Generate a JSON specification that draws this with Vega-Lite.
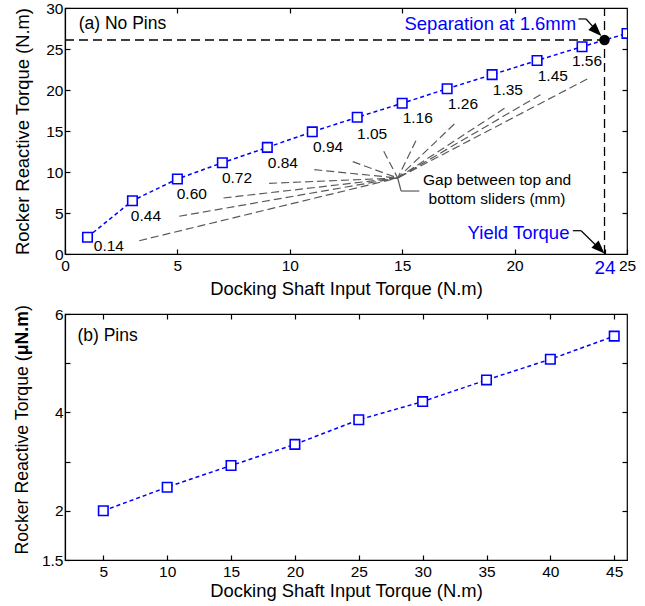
{
  "$schema": "https://vega.github.io/schema/vega-lite/v6.json",
  "padding": {"left": 12, "top": 0, "right": 8, "bottom": 5},
  "background": "white",
  "spacing": 6,
  "config": {
    "font": "Liberation Sans",
    "view": {"stroke": "black", "strokeWidth": 1.2},
    "axis": {
      "grid": false,
      "labelFont": "Liberation Sans",
      "labelFontSize": 15.5,
      "labelColor": "black",
      "titleFont": "Liberation Sans",
      "titleFontWeight": "normal",
      "titleColor": "black",
      "domainColor": "black",
      "domainWidth": 1.2,
      "tickColor": "black",
      "tickWidth": 1.2,
      "tickSize": -5,
      "labelFlush": false,
      "labelOverlap": false
    },
    "axisX": {"labelPadding": 9, "titleFontSize": 18.4, "titlePadding": 2},
    "axisY": {"labelPadding": 7, "titleFontSize": 18.4}
  },
  "datasets": {
    "seriesA": [
      {"torque": 1, "reactive": 2.05},
      {"torque": 3, "reactive": 6.5},
      {"torque": 5, "reactive": 9.15},
      {"torque": 7, "reactive": 11.13},
      {"torque": 9, "reactive": 13.0},
      {"torque": 11, "reactive": 14.9},
      {"torque": 13, "reactive": 16.67},
      {"torque": 15, "reactive": 18.38},
      {"torque": 17, "reactive": 20.16},
      {"torque": 19, "reactive": 21.87},
      {"torque": 21, "reactive": 23.6},
      {"torque": 23, "reactive": 25.28},
      {"torque": 25, "reactive": 26.9}
    ],
    "gapLabels": [
      {"torque": 1.28, "reactive": 1.01, "gap": "0.14"},
      {"torque": 2.93, "reactive": 4.67, "gap": "0.44"},
      {"torque": 4.97, "reactive": 7.32, "gap": "0.60"},
      {"torque": 6.98, "reactive": 9.23, "gap": "0.72"},
      {"torque": 9.02, "reactive": 11.1, "gap": "0.84"},
      {"torque": 11.03, "reactive": 13.05, "gap": "0.94"},
      {"torque": 12.99, "reactive": 14.63, "gap": "1.05"},
      {"torque": 15.02, "reactive": 16.55, "gap": "1.16"},
      {"torque": 17.03, "reactive": 18.26, "gap": "1.26"},
      {"torque": 19.03, "reactive": 20.0, "gap": "1.35"},
      {"torque": 21.03, "reactive": 21.67, "gap": "1.45"},
      {"torque": 22.55, "reactive": 23.54, "gap": "1.56"}
    ],
    "leaders": [
      {"torque": 3.3, "reactive": 1.62, "torque2": 14.8, "reactive2": 9.27},
      {"torque": 5.08, "reactive": 4.6, "torque2": 14.8, "reactive2": 9.27},
      {"torque": 7.05, "reactive": 6.83, "torque2": 14.8, "reactive2": 9.27},
      {"torque": 9.08, "reactive": 8.62, "torque2": 14.8, "reactive2": 9.27},
      {"torque": 11.09, "reactive": 10.28, "torque2": 14.8, "reactive2": 9.27},
      {"torque": 12.8, "reactive": 11.26, "torque2": 14.8, "reactive2": 9.27},
      {"torque": 14.18, "reactive": 12.52, "torque2": 14.8, "reactive2": 9.27},
      {"torque": 15.61, "reactive": 13.82, "torque2": 14.8, "reactive2": 9.27},
      {"torque": 17.32, "reactive": 15.85, "torque2": 14.8, "reactive2": 9.27},
      {"torque": 19.55, "reactive": 17.77, "torque2": 14.8, "reactive2": 9.27},
      {"torque": 21.15, "reactive": 19.43, "torque2": 14.8, "reactive2": 9.27},
      {"torque": 23.23, "reactive": 21.34, "torque2": 14.8, "reactive2": 9.27}
    ],
    "bracket": [
      {"torque": 14.8, "reactive": 9.27, "torque2": 14.95, "reactive2": 7.68},
      {"torque": 14.95, "reactive": 7.68, "torque2": 15.76, "reactive2": 7.68}
    ],
    "refLines": [
      {"torque": 0, "reactive": 26.1, "torque2": 24, "reactive2": 26.1},
      {"torque": 24, "reactive": 0, "torque2": 24, "reactive2": 30}
    ],
    "separation": [{"torque": 24, "reactive": 26.1}],
    "arrowLines": [
      {"torque": 22.84, "reactive": 28.66, "torque2": 23.18, "reactive2": 28.66},
      {"torque": 23.18, "reactive": 28.66, "torque2": 23.8, "reactive2": 26.75},
      {"torque": 22.59, "reactive": 2.84, "torque2": 22.96, "reactive2": 2.84},
      {"torque": 22.96, "reactive": 2.84, "torque2": 23.9, "reactive2": 0.3}
    ],
    "arrowHeads": [
      {"torque": 23.86, "reactive": 26.6},
      {"torque": 24.0, "reactive": 0.05}
    ],
    "blueNotes": [
      {"torque": 22.74, "reactive": 28.05, "note": "Separation at 1.6mm"},
      {"torque": 22.44, "reactive": 2.52, "note": "Yield Torque"}
    ],
    "blackNotes": [
      {"torque": 19.22, "reactive": 9.0, "note": "Gap between top and"},
      {"torque": 19.22, "reactive": 6.65, "note": "bottom sliders (mm)"}
    ],
    "panelA": [{"torque": 0.61, "reactive": 28.05, "note": "(a) No Pins"}],
    "seriesB": [
      {"torque": 5, "reactive": 2.0},
      {"torque": 10, "reactive": 2.48},
      {"torque": 15, "reactive": 2.92},
      {"torque": 20, "reactive": 3.35},
      {"torque": 25, "reactive": 3.85},
      {"torque": 30, "reactive": 4.22},
      {"torque": 35, "reactive": 4.66},
      {"torque": 40, "reactive": 5.08},
      {"torque": 45, "reactive": 5.55}
    ],
    "panelB": [{"torque": 2.97, "reactive": 5.56, "note": "(b) Pins"}],
    "titleB_lead": [{"torque": -0.57, "reactive": 5.16, "part": "Rocker Reactive Torque ("}],
    "titleB_unit": [{"torque": -0.57, "reactive": 5.16, "part": "μN.m"}],
    "titleB_close": [{"torque": -0.57, "reactive": 6.06, "part": ")"}]
  },
  "vconcat": [
    {
      "width": 562,
      "height": 246,
      "resolve": {"axis": {"x": "independent", "y": "independent"}},
      "layer": [
        {
          "layer": [
            {
              "data": {"name": "refLines"},
              "mark": {"type": "rule", "color": "black", "strokeWidth": 1.3, "strokeDash": [9, 5]},
              "encoding": {
                "x": {
                  "field": "torque", "type": "quantitative",
                  "scale": {"domain": [0, 25], "nice": false, "zero": false},
                  "title": "Docking Shaft Input Torque (N.m)",
                  "axis": {
                    "values": [0, 5, 10, 15, 20, 24, 25],
                    "labelColor": {"expr": "datum.value == 24 ? '#0000ff' : 'black'"},
                    "labelFontSize": {"expr": "datum.value == 24 ? 19 : 15.5"}
                  }
                },
                "y": {
                  "field": "reactive", "type": "quantitative",
                  "scale": {"domain": [0, 30], "nice": false},
                  "title": "Rocker Reactive Torque (N.m)",
                  "axis": {"values": [0, 5, 10, 15, 20, 25, 30], "titlePadding": 13.5}
                },
                "x2": {"field": "torque2"},
                "y2": {"field": "reactive2"}
              }
            },
            {
              "data": {"name": "leaders"},
              "mark": {"type": "rule", "color": "#5a5a5a", "strokeWidth": 1.2, "strokeDash": [8, 4]},
              "encoding": {
                "x": {"field": "torque", "type": "quantitative", "title": "Docking Shaft Input Torque (N.m)"},
                "y": {"field": "reactive", "type": "quantitative", "title": "Rocker Reactive Torque (N.m)"},
                "x2": {"field": "torque2"},
                "y2": {"field": "reactive2"}
              }
            },
            {
              "data": {"name": "bracket"},
              "mark": {"type": "rule", "color": "#5a5a5a", "strokeWidth": 1.2},
              "encoding": {
                "x": {"field": "torque", "type": "quantitative", "title": "Docking Shaft Input Torque (N.m)"},
                "y": {"field": "reactive", "type": "quantitative", "title": "Rocker Reactive Torque (N.m)"},
                "x2": {"field": "torque2"},
                "y2": {"field": "reactive2"}
              }
            },
            {
              "data": {"name": "seriesA"},
              "mark": {"type": "line", "color": "#0000ff", "strokeWidth": 1.5, "strokeDash": [4, 3], "clip": true},
              "encoding": {
                "x": {"field": "torque", "type": "quantitative", "title": "Docking Shaft Input Torque (N.m)"},
                "y": {"field": "reactive", "type": "quantitative", "title": "Rocker Reactive Torque (N.m)"}
              }
            },
            {
              "data": {"name": "seriesA"},
              "mark": {"type": "point", "shape": "square", "size": 90, "filled": false, "fill": "white", "fillOpacity": 1, "color": "#0000ff", "strokeWidth": 1.6, "opacity": 1, "clip": true},
              "encoding": {
                "x": {"field": "torque", "type": "quantitative", "title": "Docking Shaft Input Torque (N.m)"},
                "y": {"field": "reactive", "type": "quantitative", "title": "Rocker Reactive Torque (N.m)"}
              }
            },
            {
              "data": {"name": "separation"},
              "mark": {"type": "circle", "color": "black", "size": 110, "opacity": 1},
              "encoding": {
                "x": {"field": "torque", "type": "quantitative", "title": "Docking Shaft Input Torque (N.m)"},
                "y": {"field": "reactive", "type": "quantitative", "title": "Rocker Reactive Torque (N.m)"}
              }
            },
            {
              "data": {"name": "gapLabels"},
              "mark": {"type": "text", "align": "left", "baseline": "middle", "fontSize": 15.5, "color": "black"},
              "encoding": {
                "x": {"field": "torque", "type": "quantitative", "title": "Docking Shaft Input Torque (N.m)"},
                "y": {"field": "reactive", "type": "quantitative", "title": "Rocker Reactive Torque (N.m)"},
                "text": {"field": "gap"}
              }
            },
            {
              "data": {"name": "arrowLines"},
              "mark": {"type": "rule", "color": "black", "strokeWidth": 1.2},
              "encoding": {
                "x": {"field": "torque", "type": "quantitative", "title": "Docking Shaft Input Torque (N.m)"},
                "y": {"field": "reactive", "type": "quantitative", "title": "Rocker Reactive Torque (N.m)"},
                "x2": {"field": "torque2"},
                "y2": {"field": "reactive2"}
              }
            },
            {
              "data": {"name": "arrowHeads"},
              "mark": {"type": "point", "shape": "M0,0 L-2,-0.75 L-2,0.75 Z", "size": 180, "angle": 45, "filled": true, "color": "black", "opacity": 1, "strokeWidth": 0},
              "encoding": {
                "x": {"field": "torque", "type": "quantitative", "title": "Docking Shaft Input Torque (N.m)"},
                "y": {"field": "reactive", "type": "quantitative", "title": "Rocker Reactive Torque (N.m)"}
              }
            },
            {
              "data": {"name": "blueNotes"},
              "mark": {"type": "text", "align": "right", "baseline": "middle", "fontSize": 18.5, "color": "#0000ff"},
              "encoding": {
                "x": {"field": "torque", "type": "quantitative", "title": "Docking Shaft Input Torque (N.m)"},
                "y": {"field": "reactive", "type": "quantitative", "title": "Rocker Reactive Torque (N.m)"},
                "text": {"field": "note"}
              }
            },
            {
              "data": {"name": "blackNotes"},
              "mark": {"type": "text", "align": "center", "baseline": "middle", "fontSize": 15.5, "color": "black"},
              "encoding": {
                "x": {"field": "torque", "type": "quantitative", "title": "Docking Shaft Input Torque (N.m)"},
                "y": {"field": "reactive", "type": "quantitative", "title": "Rocker Reactive Torque (N.m)"},
                "text": {"field": "note"}
              }
            },
            {
              "data": {"name": "panelA"},
              "mark": {"type": "text", "align": "left", "baseline": "middle", "fontSize": 17.5, "color": "black"},
              "encoding": {
                "x": {"field": "torque", "type": "quantitative", "title": "Docking Shaft Input Torque (N.m)"},
                "y": {"field": "reactive", "type": "quantitative", "title": "Rocker Reactive Torque (N.m)"},
                "text": {"field": "note"}
              }
            }
          ]
        },
        {
          "data": {"name": "separation"},
          "mark": {"type": "point", "opacity": 0},
          "encoding": {
            "x": {
              "field": "torque", "type": "quantitative",
              "scale": {"domain": [0, 25], "nice": false, "zero": false},
              "axis": {"orient": "top", "values": [5, 10, 15, 20], "labels": false, "title": null, "domain": false}
            },
            "y": {
              "field": "reactive", "type": "quantitative",
              "scale": {"domain": [0, 30], "nice": false},
              "axis": {"orient": "right", "values": [5, 10, 15, 20, 25], "labels": false, "title": null, "domain": false}
            }
          }
        }
      ]
    },
    {
      "width": 562,
      "height": 246,
      "resolve": {"axis": {"x": "independent", "y": "independent"}},
      "layer": [
        {
          "layer": [
            {
              "data": {"name": "seriesB"},
              "mark": {"type": "line", "color": "#0000ff", "strokeWidth": 1.5, "strokeDash": [4, 3]},
              "encoding": {
                "x": {
                  "field": "torque", "type": "quantitative",
                  "scale": {"domain": [2, 46], "nice": false, "zero": false},
                  "title": "Docking Shaft Input Torque (N.m)",
                  "axis": {"values": [5, 10, 15, 20, 25, 30, 35, 40, 45]}
                },
                "y": {
                  "field": "reactive", "type": "quantitative",
                  "scale": {"domain": [1, 6], "nice": false, "zero": false},
                  "title": null,
                  "axis": {
                    "values": [1, 2, 3, 4, 5, 6],
                    "labelExpr": "datum.value == 1 ? '1.5' : (datum.value % 2 == 0 ? datum.label : '')"
                  }
                }
              }
            },
            {
              "data": {"name": "seriesB"},
              "mark": {"type": "point", "shape": "square", "size": 90, "filled": false, "fill": "white", "fillOpacity": 1, "color": "#0000ff", "strokeWidth": 1.6, "opacity": 1},
              "encoding": {
                "x": {"field": "torque", "type": "quantitative", "title": "Docking Shaft Input Torque (N.m)"},
                "y": {"field": "reactive", "type": "quantitative", "title": null}
              }
            },
            {
              "data": {"name": "panelB"},
              "mark": {"type": "text", "align": "left", "baseline": "middle", "fontSize": 17.5, "color": "black"},
              "encoding": {
                "x": {"field": "torque", "type": "quantitative", "title": "Docking Shaft Input Torque (N.m)"},
                "y": {"field": "reactive", "type": "quantitative", "title": null},
                "text": {"field": "note"}
              }
            },
            {
              "data": {"name": "titleB_lead"},
              "mark": {"type": "text", "align": "right", "baseline": "bottom", "angle": 270, "fontSize": 17.7, "color": "black", "clip": false},
              "encoding": {
                "x": {"field": "torque", "type": "quantitative", "title": "Docking Shaft Input Torque (N.m)"},
                "y": {"field": "reactive", "type": "quantitative", "title": null},
                "text": {"field": "part"}
              }
            },
            {
              "data": {"name": "titleB_unit"},
              "mark": {"type": "text", "align": "left", "baseline": "bottom", "angle": 270, "fontSize": 17.7, "fontWeight": "bold", "color": "black", "clip": false},
              "encoding": {
                "x": {"field": "torque", "type": "quantitative", "title": "Docking Shaft Input Torque (N.m)"},
                "y": {"field": "reactive", "type": "quantitative", "title": null},
                "text": {"field": "part"}
              }
            },
            {
              "data": {"name": "titleB_close"},
              "mark": {"type": "text", "align": "left", "baseline": "bottom", "angle": 270, "fontSize": 17.7, "color": "black", "clip": false},
              "encoding": {
                "x": {"field": "torque", "type": "quantitative", "title": "Docking Shaft Input Torque (N.m)"},
                "y": {"field": "reactive", "type": "quantitative", "title": null},
                "text": {"field": "part"}
              }
            }
          ]
        },
        {
          "data": {"name": "panelB"},
          "mark": {"type": "point", "opacity": 0},
          "encoding": {
            "x": {
              "field": "torque", "type": "quantitative",
              "scale": {"domain": [2, 46], "nice": false, "zero": false},
              "axis": {"orient": "top", "values": [5, 10, 15, 20, 25, 30, 35, 40, 45], "labels": false, "title": null, "domain": false}
            },
            "y": {
              "field": "reactive", "type": "quantitative",
              "scale": {"domain": [1, 6], "nice": false, "zero": false},
              "axis": {"orient": "right", "values": [2, 3, 4, 5], "labels": false, "title": null, "domain": false}
            }
          }
        }
      ]
    }
  ]
}
